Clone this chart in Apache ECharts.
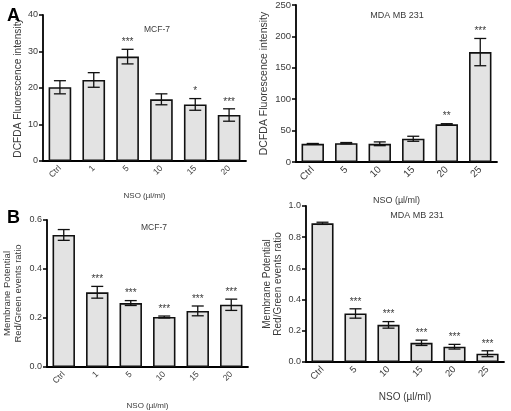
<!DOCTYPE html>
<html><head><meta charset="utf-8">
<script src="https://cdn.jsdelivr.net/npm/echarts@6/dist/echarts.min.js"></script>
<style>html,body{margin:0;padding:0;background:#fff}#c{width:511px;height:411px}</style>
</head><body><div id="c"></div>
<script>
const catsA1 = ['Ctrl','1','5','10','15','20'];
const valsA1 = [20.2,22.2,28.6,16.9,15.5,12.6];
const errA1 = [1.8,2.0,2.0,1.5,1.6,1.7];
const starsA1 = ['','','***','','*','***'];

const catsA2 = ['Ctrl','5','10','15','20','25'];
const valsA2 = [29,30,29,37,60,175];
const errA2 = [0.5,1,3,4,1,21.7];
const starsA2 = ['','','','','**','***'];

const catsB1 = ['Ctrl','1','5','10','15','20'];
const valsB1 = [0.539,0.305,0.261,0.204,0.229,0.254];
const errB1 = [0.022,0.024,0.01,0.004,0.02,0.023];
const starsB1 = ['','***','***','***','***','***'];

const catsB2 = ['Ctrl','5','10','15','20','25'];
const valsB2 = [0.889,0.311,0.238,0.123,0.098,0.053];
const errB2 = [0.007,0.03,0.021,0.017,0.015,0.019];
const starsB2 = ['','***','***','***','***','***'];

const ticksA1 = {min:0,max:40,interval:10};
const ticksA2 = {min:0,max:250,interval:50};
const ticksB1 = {min:0,max:0.6,interval:0.2};
const ticksB2 = {min:0,max:1.0,interval:0.2};

const FONT = "'Liberation Sans', Arial, sans-serif";
const TXT = '#3a3a3a';

const panels = [
  {cats:catsA1, vals:valsA1, err:errA1, stars:starsA1, ticks:ticksA1, dec:0,
   grid:{left:43,top:15,width:203,height:146}, yname:'DCFDA Fluorescence intensity', ygap:13, xgap:31,
   fy:9, fx:8.5, fxn:8, fyn:10.2},
  {cats:catsA2, vals:valsA2, err:errA2, stars:starsA2, ticks:ticksA2, dec:0,
   grid:{left:296,top:5,width:201,height:157}, yname:'DCFDA Fluorescence intensity', ygap:26, xgap:34,
   fy:9.5, fx:10, fxn:9, fyn:10.5},
  {cats:catsB1, vals:valsB1, err:errB1, stars:starsB1, ticks:ticksB1, dec:1,
   grid:{left:47,top:220,width:201,height:147}, yname:'Membrane Potential\nRed/Green events ratio', ygap:23, xgap:35,
   fy:9, fx:8.5, fxn:8, fyn:9.5},
  {cats:catsB2, vals:valsB2, err:errB2, stars:starsB2, ticks:ticksB2, dec:1,
   grid:{left:306,top:206,width:198,height:156}, yname:'Membrane Potential\nRed/Green events ratio', ygap:22, xgap:30,
   fy:9, fx:9.5, fxn:10, fyn:10}
];

const grids=[], xAxes=[], yAxes=[], series=[];
panels.forEach((p,i)=>{
  grids.push(Object.assign({containLabel:false}, p.grid));
  xAxes.push({type:'category', gridIndex:i, data:p.cats,
    name:'NSO (µl/ml)', nameLocation:'middle', nameGap:p.xgap,
    nameTextStyle:{fontFamily:FONT,fontSize:p.fxn,color:TXT},
    axisLine:{lineStyle:{color:'#000',width:1.8}},
    axisTick:{alignWithLabel:true,length:4,lineStyle:{color:'#000',width:1.5}},
    axisLabel:{rotate:45,fontFamily:FONT,fontSize:p.fx,color:TXT,margin:6}});
  yAxes.push({type:'value', gridIndex:i, min:p.ticks.min, max:p.ticks.max, interval:p.ticks.interval,
    name:p.yname, nameLocation:'middle', nameRotate:90, nameGap:p.ygap,
    nameTextStyle:{fontFamily:FONT,fontSize:p.fyn,color:TXT,lineHeight:p.fyn+1.5},
    axisLine:{show:true,lineStyle:{color:'#000',width:1.8}},
    axisTick:{show:true,length:4,lineStyle:{color:'#000',width:1.5}},
    splitLine:{show:false},
    axisLabel:{fontFamily:FONT,fontSize:p.fy,color:TXT,margin:5,
      formatter:v=>Number(v).toFixed(p.dec)}});
  series.push({type:'bar', xAxisIndex:i, yAxisIndex:i, data:p.vals, barCategoryGap:'33%',
    itemStyle:{color:'#e3e3e3',borderColor:'#111',borderWidth:1.6}, silent:true, animation:false});
  series.push({type:'custom', xAxisIndex:i, yAxisIndex:i, animation:false, silent:true, z:5,
    data:p.vals.map((v,k)=>[k,v,p.err[k]]),
    encode:{x:0,y:1},
    renderItem:(params,api)=>{
      const k=api.value(0), m=api.value(1), e=api.value(2);
      const hi=api.coord([k,m+e]), lo=api.coord([k,m-e]);
      const hw=6;
      const st=p.stars[params.dataIndex];
      const children=[
        {type:'line',shape:{x1:hi[0],y1:hi[1],x2:lo[0],y2:lo[1]},style:{stroke:'#111',lineWidth:1.3}},
        {type:'line',shape:{x1:hi[0]-hw,y1:hi[1],x2:hi[0]+hw,y2:hi[1]},style:{stroke:'#111',lineWidth:1.3}},
        {type:'line',shape:{x1:lo[0]-hw,y1:lo[1],x2:lo[0]+hw,y2:lo[1]},style:{stroke:'#111',lineWidth:1.3}}
      ];
      if(st){children.push({type:'text',x:hi[0],y:hi[1]-2,
        style:{text:st,fontFamily:FONT,fontSize:10,fill:TXT,align:'center',verticalAlign:'bottom'}});}
      return {type:'group',children};
    }});
});

const titles=[
  {text:'A',left:2,top:2,textStyle:{fontFamily:FONT,fontSize:18,fontWeight:'bold',color:'#000'}},
  {text:'B',left:2,top:204,textStyle:{fontFamily:FONT,fontSize:18,fontWeight:'bold',color:'#000'}},
  {text:'MCF-7',left:152,top:20,textAlign:'center',textStyle:{fontFamily:FONT,fontSize:8.5,fontWeight:'normal',color:TXT}},
  {text:'MDA MB 231',left:392,top:6,textAlign:'center',textStyle:{fontFamily:FONT,fontSize:9,fontWeight:'normal',color:TXT}},
  {text:'MCF-7',left:149,top:218,textAlign:'center',textStyle:{fontFamily:FONT,fontSize:8.5,fontWeight:'normal',color:TXT}},
  {text:'MDA MB 231',left:412,top:206,textAlign:'center',textStyle:{fontFamily:FONT,fontSize:9,fontWeight:'normal',color:TXT}}
];

const chart=echarts.init(document.getElementById('c'),null,{renderer:'canvas'});
chart.setOption({animation:false,title:titles,grid:grids,xAxis:xAxes,yAxis:yAxes,series});
</script></body></html>
